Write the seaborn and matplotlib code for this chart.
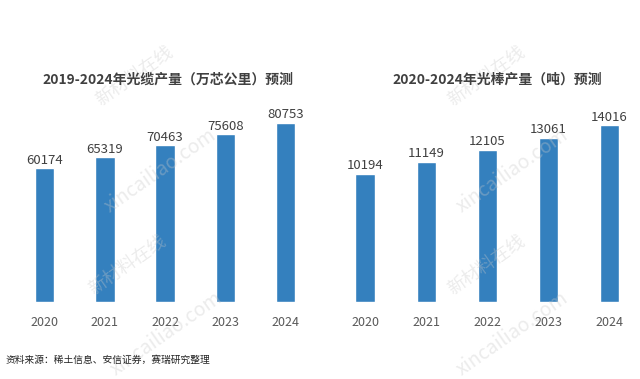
import pandas as pd
import numpy as np
import seaborn as sns
import matplotlib.pyplot as plt

# data
years = ['2020', '2021', '2022', '2023', '2024']
cable_output = [60174, 65319, 70463, 75608, 80753]
preform_output = [10194, 11149, 12105, 13061, 14016]
title_cable = '2019-2024年光缆产量（万芯公里）预测'
title_preform = '2020-2024年光棒产量（吨）预测'
source_note = '资料来源：稀土信息、安信证券，赛瑞研究整理'

sns.set_style('white')
plt.rcParams['font.family'] = ['Noto Sans CJK SC', 'DejaVu Sans']

bar_color = '#3480BE'

fig = plt.figure(figsize=(6.4, 3.79), dpi=100)
fig.patch.set_facecolor('white')

panels = [
    (cable_output, title_cable, [0.023, 0.203, 0.47, 0.6], 102300),
    (preform_output, title_preform, [0.523, 0.203, 0.477, 0.6], 18050),
]

for vals, title, rect, ymax in panels:
    ax = fig.add_axes(rect)
    ax.patch.set_alpha(0)
    df = pd.DataFrame({'year': years, 'value': vals})
    sns.barplot(data=df, x='year', y='value', color=bar_color, width=0.32,
                saturation=1, ax=ax)
    for i, v in enumerate(vals):
        ax.text(i, v + ymax * 0.006, str(v), ha='center', va='bottom',
                fontsize=9.5, color='#404040')
    ax.set_ylim(0, ymax)
    ax.set_xlim(-0.5, 4.5)
    ax.set_xlabel('')
    ax.set_ylabel('')
    ax.set_yticks([])
    ax.tick_params(axis='x', length=0, labelsize=9, labelcolor='#595959', pad=10)
    for sp in ax.spines.values():
        sp.set_visible(False)

# watermark, very faint, laid over everything like the original
for (x, y, s, fs) in [(0.21, 0.80, '新材料在线', 13), (0.25, 0.55, 'xincailiao.com', 14),
                      (0.76, 0.80, '新材料在线', 13), (0.80, 0.55, 'xincailiao.com', 14),
                      (0.20, 0.30, '新材料在线', 13), (0.26, 0.12, 'xincailiao.com', 14),
                      (0.76, 0.30, '新材料在线', 13), (0.80, 0.12, 'xincailiao.com', 14)]:
    fig.text(x, y, s, fontsize=fs, color='#c8c8c8', alpha=0.35, rotation=35,
             ha='center', va='center')

fig.text(0.263, 0.79, title_cable, ha='center', va='center', fontsize=10,
         fontweight='bold', color='#404040')
fig.text(0.777, 0.79, title_preform, ha='center', va='center', fontsize=10,
         fontweight='bold', color='#404040')
fig.text(0.008, 0.05, source_note, ha='left', va='center', fontsize=7, color='#222222')

plt.savefig('out.png', dpi=100)
